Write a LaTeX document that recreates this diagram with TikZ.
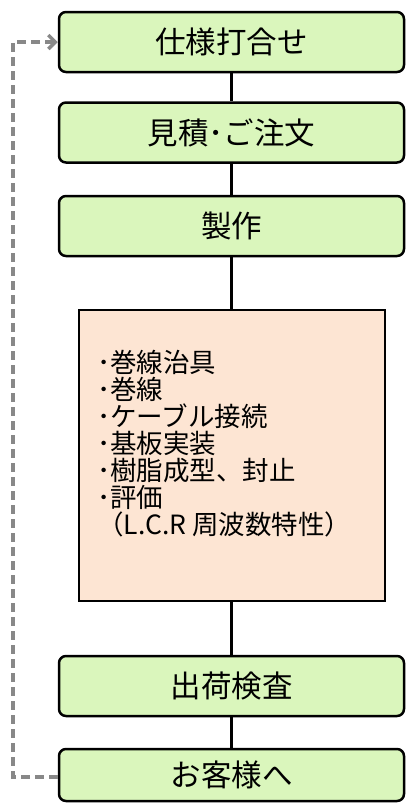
\documentclass[tikz,border=0pt]{standalone}
\usepackage{fontspec}
\setmainfont{Noto Sans CJK JP}
\usetikzlibrary{arrows.meta}
\definecolor{boxgreen}{HTML}{DAF6BC}
\definecolor{boxpeach}{HTML}{FDE5D3}
\definecolor{dashgray}{HTML}{888888}
\tikzset{
  stepbox/.style={draw=black, line width=2.5pt, fill=boxgreen, rounded corners=7pt,
    minimum width=345pt, minimum height=60pt, inner sep=0pt,
    font=\fontsize{30.5}{33}\selectfont},
  workbox/.style={draw=black, line width=2.5pt, fill=boxpeach,
    minimum width=306pt, minimum height=291pt, inner sep=0pt},
  link/.style={draw=black, line width=2.5pt},
  back/.style={draw=dashgray, line width=3.5pt, dash pattern=on 9pt off 5pt},
}
\begin{document}
\begin{tikzpicture}[x=1pt,y=-1pt]
\useasboundingbox (0,0) rectangle (405,804);
\node[stepbox] (s1) at (231.5,42) {仕様打合せ};
\node[stepbox] (s2) at (231.5,132.5) {見積･ご注文};
\node[stepbox] (s3) at (231.5,226) {製作};
\node[workbox] (w) at (232,455.5) {};
\node[anchor=west, align=left, inner sep=0pt,
  font=\fontsize{26.5}{27}\selectfont] (wt) at (97,444)
  {･巻線治具\\･巻線\\･ケーブル接続\\･基板実装\\･樹脂成型、封止\\･評価\\（L.C.R 周波数特性）};
\node[stepbox] (s4) at (231.5,686) {出荷検査};
\node[stepbox, minimum height=52pt] (s5) at (231.5,775) {お客様へ};
\draw[link] (s1) -- (s2);
\draw[link] (s2) -- (s3);
\draw[link] (s3) -- (w.north -| s3.south);
\draw[link] (w.south -| s4.north) -- (s4);
\draw[link] (s4) -- (s5);
\coordinate (cb) at (13,777);
\coordinate (ct) at (13,42);
\draw[back, -{Straight Barb[length=7pt,width=14pt]}] (s5.west |- cb) -- (cb) -- (ct) -- (s1.west);
\end{tikzpicture}
\end{document}
